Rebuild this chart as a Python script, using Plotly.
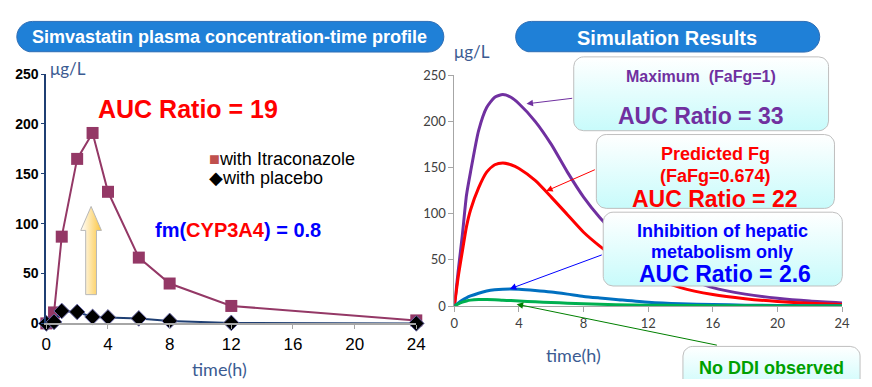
import numpy as np
import plotly.graph_objects as go

# ---------------- data ----------------
obs_time = [0, 0.5, 1, 2, 3, 4, 6, 8, 12, 24]
itra_conc = [0, 11, 87, 165, 191, 132, 66, 40, 17.5, 3]
placebo_conc = [0, 1.5, 12.5, 11.5, 6.5, 6, 5, 2.5, 0.5, 0]

sim_time = [0, 0.25, 0.5, 0.75, 1, 1.5, 2, 2.5, 3, 3.5, 4, 5, 6, 7, 8, 9, 10, 12, 14, 16, 18, 20, 22, 24]
sim_max = [0, 40, 78, 120, 145, 190, 215, 226, 229, 226, 219, 200, 175, 145, 118, 96, 78, 52, 33, 20, 13, 8.5, 5.5, 3.5]
sim_pred = [0, 33, 60, 86, 104, 128, 145, 153, 155, 153, 149, 136, 118, 99, 80, 65, 52, 33, 20, 12.5, 8, 5, 3, 1.8]
sim_hep = [0, 3.5, 6.5, 9, 11, 14, 16.3, 17.7, 18.4, 18.6, 18.3, 17, 15.3, 13, 10.5, 8.8, 7.3, 4.3, 2.6, 1.7, 1.1, 0.7, 0.5, 0.3]
sim_noddi = [0, 2.5, 4.3, 5.6, 6.5, 7.2, 7.3, 7.0, 6.4, 6.0, 5.6, 4.7, 3.9, 3.2, 2.5, 2.0, 1.6, 1.0, 0.7, 0.5, 0.35, 0.25, 0.2, 0.15]

x_ticks = [0, 4, 8, 12, 16, 20, 24]
y_ticks = [0, 50, 100, 150, 200, 250]

W, H = 872, 387
ARIAL = "Liberation Sans"
CAL = "Lato"


def rrect(x0, y0, x1, y1, r, n=8):
    xs, ys = [], []
    corners = [(x1 - r, y0 + r, -90, 0), (x1 - r, y1 - r, 0, 90),
               (x0 + r, y1 - r, 90, 180), (x0 + r, y0 + r, 180, 270)]
    for cx, cy, a0, a1 in corners:
        for a in np.linspace(np.radians(a0), np.radians(a1), n):
            xs.append(cx + r * np.cos(a))
            ys.append(cy + r * np.sin(a))
    xs.append(xs[0]); ys.append(ys[0])
    return xs, ys


fig = go.Figure()

# left chart
fig.add_trace(go.Scatter(x=obs_time, y=itra_conc, mode="lines+markers", xaxis="x", yaxis="y",
                         line=dict(color="#943866", width=2),
                         marker=dict(symbol="square", size=12, color="#943866"),
                         cliponaxis=False, showlegend=False))
fig.add_trace(go.Scatter(x=obs_time, y=placebo_conc, mode="lines+markers", xaxis="x", yaxis="y",
                         line=dict(color="#1f3f73", width=2),
                         marker=dict(symbol="diamond", size=12, color="black",
                                     line=dict(color="#6a6aa8", width=1)),
                         cliponaxis=False, showlegend=False))

# right chart
for vals, col in [(sim_max, "#7030a0"), (sim_pred, "#ff0000"), (sim_hep, "#0070c0"), (sim_noddi, "#00b050")]:
    fig.add_trace(go.Scatter(x=sim_time, y=vals, mode="lines", xaxis="x2", yaxis="y2",
                             line=dict(color=col, width=3, shape="spline", smoothing=0.6),
                             showlegend=False))


def add_box(x0, y0, x1, y1, r, fill=None, grad=None, line="#bfbfbf", lw=1):
    xs, ys = rrect(x0, y0, x1, y1, r)
    kw = dict(x=xs, y=ys, mode="lines", fill="toself", xaxis="x3", yaxis="y3",
              line=dict(color=line, width=lw), hoverinfo="skip", showlegend=False)
    if grad:
        kw["fillgradient"] = dict(type="vertical", colorscale=grad)
    else:
        kw["fillcolor"] = fill
    fig.add_trace(go.Scatter(**kw))


# header pills
add_box(12, 14, 446, 46, 16, fill="#1f80d7", line="#2f6eb5")
add_box(519, 14, 828, 46, 16, fill="#1f80d7", line="#2f6eb5")

grad = [[0, "#c8fbfb"], [1, "#ffffff"]]
add_box(578, 51, 837, 128, 10, grad=grad)
add_box(601, 132, 843, 209, 10, grad=grad)
add_box(608, 213, 851, 290, 10, grad=grad)
add_box(689, 353, 869, 400, 10, grad=grad)

# yellow up arrow
ax_x = [87.5, 98, 93, 93, 82, 82, 77, 87.5]
ax_y = [207, 232, 232, 299, 299, 232, 232, 207]
fig.add_trace(go.Scatter(x=ax_x, y=ax_y, mode="lines", fill="toself", xaxis="x3", yaxis="y3",
                         line=dict(color="#b8b8b8", width=1),
                         fillgradient=dict(type="horizontal", colorscale=[[0, "#ffffff"], [1, "#fcc640"]]),
                         hoverinfo="skip", showlegend=False))

ann = []


def txt(x, y, s, size, color, family=ARIAL, bold=True, xanchor="center"):
    ann.append(dict(x=x, y=y, xref="x3", yref="y3", text=s, showarrow=False,
                    xanchor=xanchor, yanchor="middle",
                    font=dict(size=size, color=color, family=family, weight="bold" if bold else "normal")))


txt(228, 30, "Simvastatin plasma concentration-time profile", 18, "white")
txt(673, 31, "Simulation Results", 20, "white")

txt(186, 105, "AUC Ratio = 19", 25, "#ff0000")
txt(237, 232, '<span style="color:#0000ff">fm(</span><span style="color:#ff0000">CYP3A4</span><span style="color:#0000ff">) = 0.8</span>', 20, "#0000ff")
txt(205, 158, '<span style="color:#c0504d">■</span>with Itraconazole', 18, "black", bold=False, xanchor="left")
txt(205, 177, '◆with placebo', 18, "black", bold=False, xanchor="left")

txt(64, 63, "μg/L", 17, "#3b5b92", family=CAL, bold=False)
txt(475, 45, "μg/L", 17, "#3b5b92", family=CAL, bold=False)
txt(218, 377, "time(h)", 18, "#3b5b92", family=CAL, bold=False)
txt(578, 362, "time(h)", 18, "#3b5b92", family=CAL, bold=False)

txt(707, 71, "Maximum  (FaFg=1)", 16, "#7030a0")
txt(707, 113, "AUC Ratio = 33", 23, "#7030a0")
txt(722, 152, "Predicted Fg", 18, "#ff0000")
txt(722, 175, "(FaFg=0.674)", 18, "#ff0000")
txt(722, 199, "AUC Ratio = 22", 23, "#ff0000")
txt(729, 233, "Inhibition of hepatic", 18, "#0000ff")
txt(729, 255, "metabolism only", 18, "#0000ff")
txt(732, 277, "AUC Ratio = 2.6", 23, "#0000ff")
txt(779, 376, "No DDI observed", 18, "#00a000")


def arrow(hx, hy, tx, ty, color):
    ann.append(dict(x=hx, y=hy, ax=tx, ay=ty, xref="x3", yref="y3", axref="x3", ayref="y3",
                    text="", showarrow=True, arrowhead=2, arrowsize=1.3, arrowwidth=1,
                    arrowcolor=color))


arrow(530, 100, 578, 94, "#7030a0")
arrow(550, 191, 601, 168, "#ff0000")
arrow(513, 293, 608, 257, "#0000ff")
arrow(520, 309, 725, 352, "#008000")

fig.update_layout(
    width=W, height=H, margin=dict(l=0, r=0, t=0, b=0),
    paper_bgcolor="white", plot_bgcolor="rgba(0,0,0,0)",
    showlegend=False, annotations=ann,
    xaxis=dict(domain=[42 / W, 418 / W], range=[0, 24], tickvals=x_ticks, showgrid=False, zeroline=False,
               showline=True, linecolor="#a6a6a6", linewidth=1.5, ticks="outside", ticklen=4,
               tickcolor="#a6a6a6", tickfont=dict(size=17, color="black", family=ARIAL)),
    yaxis=dict(domain=[1 - 329 / H, 1 - 69 / H], range=[0, 250], tickvals=y_ticks, showgrid=False,
               zeroline=False, showline=True, linecolor="#1f3f73", linewidth=2, ticks="outside",
               ticklen=3, tickcolor="#1f3f73",
               tickfont=dict(size=14, color="black", family=ARIAL, weight="bold")),
    xaxis2=dict(domain=[456.7 / W, 850.7 / W], range=[0, 24], anchor="y2", tickvals=x_ticks,
                showgrid=False, zeroline=False, showline=True, linecolor="#a6a6a6", ticks="outside",
                ticklen=5, tickcolor="#a6a6a6", tickfont=dict(size=13, color="#404040", family=CAL)),
    yaxis2=dict(domain=[1 - 311 / H, 1 - 70 / H], range=[0, 250], anchor="x2", tickvals=y_ticks,
                showgrid=False, zeroline=False, showline=True, linecolor="#a6a6a6", ticks="outside",
                ticklen=5, tickcolor="#a6a6a6", tickfont=dict(size=13, color="#404040", family=CAL)),
    xaxis3=dict(domain=[0, 1], range=[0, W], anchor="y3", visible=False, fixedrange=True),
    yaxis3=dict(domain=[0, 1], range=[H, 0], anchor="x3", visible=False, fixedrange=True),
)

fig.write_html("out.html")
